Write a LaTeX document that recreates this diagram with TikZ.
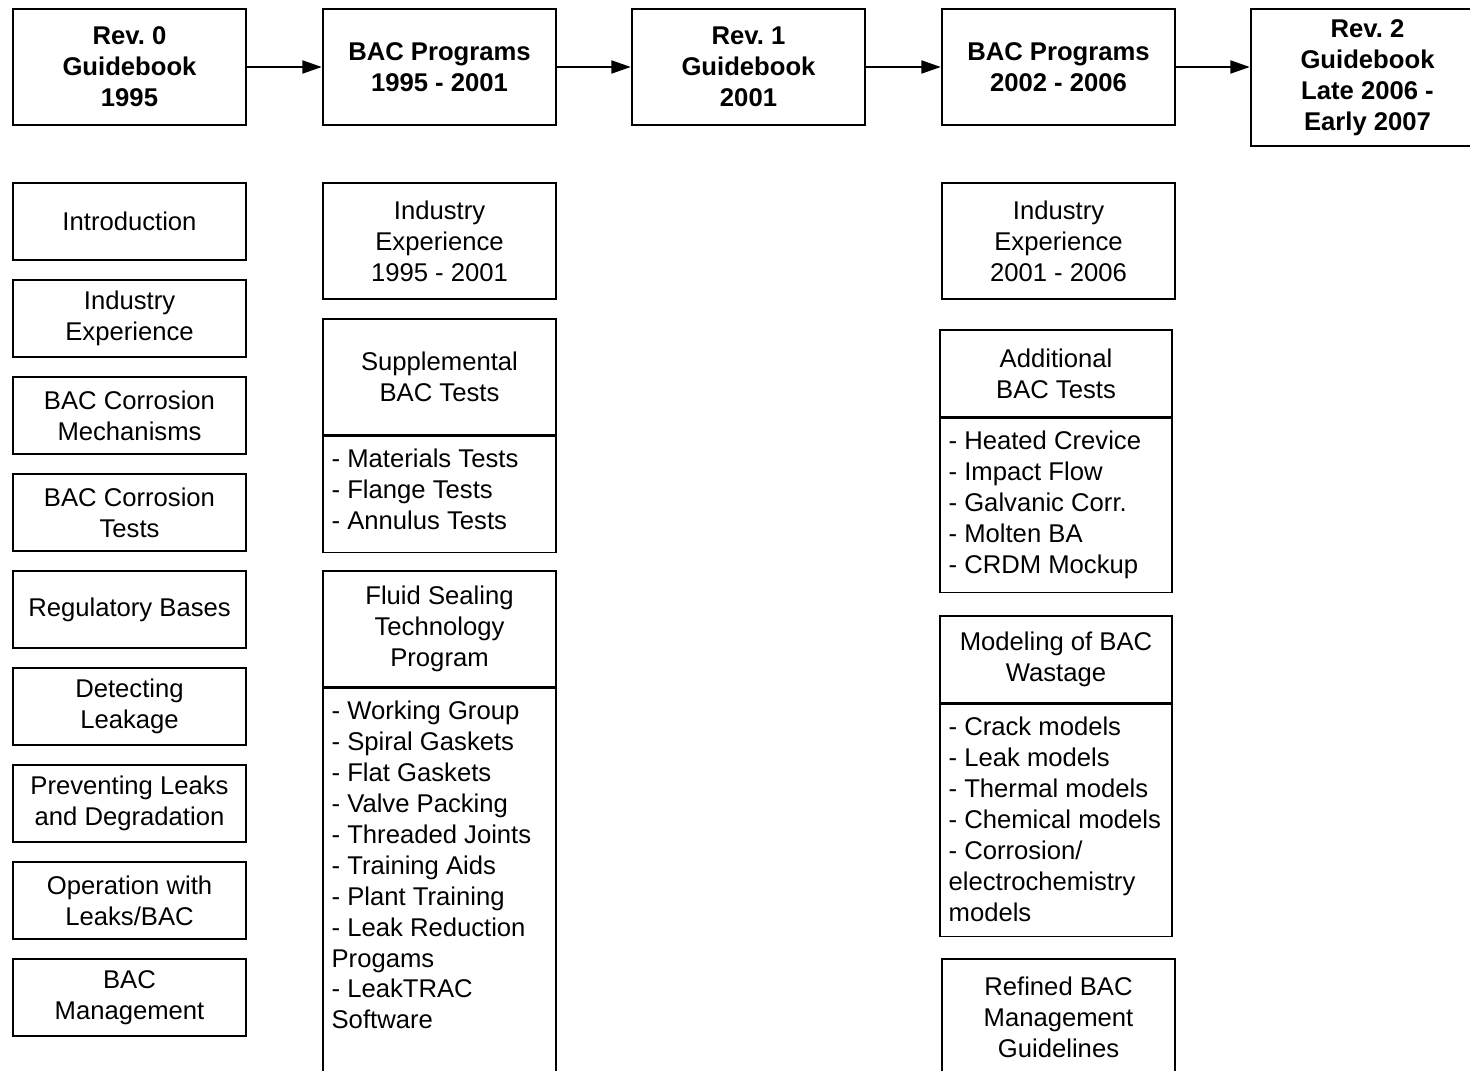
\documentclass[tikz,border=0pt]{standalone}
\usepackage{fontspec}
\setmainfont{Liberation Sans}
\usetikzlibrary{arrows.meta}
\frenchspacing

\begin{document}
\begin{tikzpicture}[x=0.02cm, y=-0.02cm,
    every node/.style={font=\fontsize{14.6pt}{17.6pt}\selectfont},
    headbox/.style={draw, line width=1.5pt, minimum width=4.66cm, minimum height=2.32cm,
        align=center, font=\fontsize{14.6pt}{17.6pt}\selectfont\bfseries},
    topicbox/.style={draw, line width=0.85pt, minimum width=4.66cm, minimum height=1.54cm, align=center},
    listbody/.style={draw, line width=0.85pt, minimum width=4.66cm, anchor=north},
    listtext/.style={anchor=north west, align=left, inner xsep=0.18cm, inner ysep=0.26cm},
    flow/.style={-{Triangle[length=11pt,width=7.5pt]}, line width=0.8pt}]

    \useasboundingbox (0,0) rectangle (1470,1071);
    \clip (0,0) rectangle (1470,1071);

    % Header row
    \node[headbox] (rev0) at (129.5,67) {Rev. 0\\Guidebook\\1995};
    \node[headbox] (bac1) at (439.5,67) {BAC Programs\\1995 - 2001};
    \node[headbox] (rev1) at (748.5,67) {Rev. 1\\Guidebook\\2001};
    \node[headbox] (bac2) at (1058.5,67) {BAC Programs\\2002 - 2006};
    \node[headbox, minimum height=2.74cm] (rev2) at (1367.5,77.5) {Rev. 2\\Guidebook\\Late 2006 -\\Early 2007};

    % Arrows between stages
    \draw[flow] (rev0) -- (bac1);
    \draw[flow] (bac1) -- (rev1);
    \draw[flow] (rev1) -- (bac2);
    \draw[flow] (bac2.east) -- (bac2.east -| rev2.west);

    % Rev. 0 chapters
    \foreach \txt [count=\i] in {Introduction, {Industry\\Experience}, {BAC Corrosion\\Mechanisms},
        {BAC Corrosion\\Tests}, Regulatory Bases, {Detecting\\Leakage},
        {Preventing Leaks\\and Degradation}, {Operation with\\Leaks/BAC}, {BAC\\Management}} {
        \node[topicbox] (chap\i) at (129.5,{221.5+97*(\i-1)}) {\txt};
    }

    % BAC programs 1995 - 2001
    \node[topicbox, minimum height=2.32cm] (exp1) at (439.5,241) {Industry\\Experience\\1995 - 2001};
    \node[topicbox, minimum height=2.32cm] (supp) at (439.5,377) {Supplemental\\BAC Tests};
    \node[listbody, minimum height=2.32cm] (supplist) at (supp.south) {};
    \node[listtext] (supptext) at (supplist.north west) {- Materials Tests\\- Flange Tests\\- Annulus Tests};

    \node[topicbox, minimum height=2.32cm] (fluid) at (439.5,629) {Fluid Sealing\\Technology\\Program};
    \node[listbody, minimum height=9cm] (fluidlist) at (fluid.south) {};
    \node[listtext] (fluidtext) at (fluidlist.north west) {- Working Group\\- Spiral Gaskets\\- Flat Gaskets\\
        - Valve Packing\\- Threaded Joints\\- Training Aids\\- Plant Training\\- Leak Reduction\\
        Progams\\- LeakTRAC\\Software};

    % BAC programs 2002 - 2006
    \node[topicbox, minimum height=2.32cm] (exp2) at (1058.5,241) {Industry\\Experience\\2001 - 2006};
    \node[topicbox, minimum width=4.64cm, minimum height=1.74cm] (addl) at (1056,373.5) {Additional\\BAC Tests};
    \node[listbody, minimum width=4.64cm, minimum height=3.48cm] (addllist) at (addl.south) {};
    \node[listtext] (addltext) at (addllist.north west) {- Heated Crevice\\- Impact Flow\\- Galvanic Corr.\\
        - Molten BA\\- CRDM Mockup};

    \node[topicbox, minimum width=4.64cm, minimum height=1.74cm] (model) at (1056,659.5) {Modeling of BAC\\Wastage};
    \node[listbody, minimum width=4.64cm, minimum height=4.64cm] (modellist) at (model.south) {};
    \node[listtext] (modeltext) at (modellist.north west) {- Crack models\\- Leak models\\- Thermal models\\
        - Chemical models\\- Corrosion/\\electrochemistry\\models};

    \node[topicbox, minimum height=2.32cm] (refined) at (1058.5,1017) {Refined BAC\\Management\\Guidelines};
\end{tikzpicture}
\end{document}
